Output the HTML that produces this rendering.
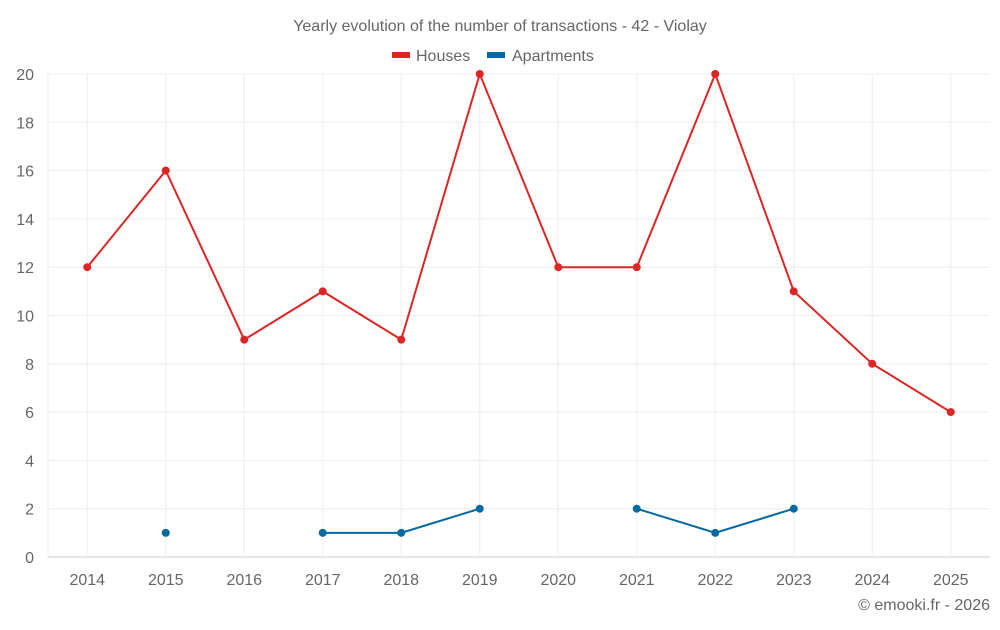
<!DOCTYPE html>
<html><head><meta charset="utf-8"><style>
body{margin:0;background:#fff;}
svg text{font-family:"Liberation Sans",sans-serif;fill:#666;}
</style></head><body>
<svg id="chart" width="1000" height="625">
<text x="500" y="31" text-anchor="middle" font-size="16">Yearly evolution of the number of transactions - 42 - Violay</text>
<g>
<g><rect x="392" y="52" width="18" height="6" fill="#dc2626"/><text x="416" y="61" font-size="16">Houses</text></g>
<g><rect x="487" y="52" width="18" height="6" fill="#0369a1"/><text x="512" y="61" font-size="16">Apartments</text></g>
</g>
<g id="grid"></g><g id="axes"></g><g id="series"></g>
<text x="990" y="610" text-anchor="end" font-size="16">© emooki.fr - 2026</text>
</svg>
<script>
const years=["2014","2015","2016","2017","2018","2019","2020","2021","2022","2023","2024","2025"];
const houses=[12,16,9,11,9,20,12,12,20,11,8,6];
const apartments=[null,1,null,1,1,2,null,2,1,2,null,null];
const yTicks=[0,2,4,6,8,10,12,14,16,18,20];
const NS="http://www.w3.org/2000/svg";
const L=48,R=990,T=74,B=557,ymax=20;
const bw=(R-L)/years.length;
const x=i=>L+bw*(i+0.5);
const y=v=>B-(v/ymax)*(B-T);
function mk(tag,attrs,parent){const e=document.createElementNS(NS,tag);for(const k in attrs)e.setAttribute(k,attrs[k]);parent.appendChild(e);return e;}
const grid=document.getElementById('grid'),axes=document.getElementById('axes'),ser=document.getElementById('series');
yTicks.forEach(v=>{
 const l=mk('line',{x1:L,x2:R,y1:y(v),y2:y(v),stroke:v===0?'#ccc':'#eee'},grid);
 
 
 const t=mk('text',{x:34,y:y(v)+6,'text-anchor':'end','font-size':16},axes);
 t.textContent=v;
 
 
});
mk('line',{x1:L,x2:L,y1:T,y2:B,stroke:'#eee'},grid);
years.forEach((yr,i)=>{
 const l=mk('line',{x1:x(i),x2:x(i),y1:T,y2:B,stroke:'#eee'},grid);
 
 
 const t=mk('text',{x:x(i),y:585,'text-anchor':'middle','font-size':16},axes);
 t.textContent=yr;
 
 
});
function draw(data,color,name){
 let seg=[];
 const flush=()=>{if(seg.length>1){const p=mk('polyline',{points:seg.join(' '),fill:'none',stroke:color,'stroke-width':2},ser);
  
  }seg=[];};
 data.forEach((v,i)=>{if(v===null){flush();return;}seg.push(x(i)+','+y(v));});
 flush();
 data.forEach((v,i)=>{if(v===null)return;
  const c=mk('circle',{cx:x(i),cy:y(v),r:4,fill:color},ser);
  
  });
}
draw(houses,'#dc2626','houses');
draw(apartments,'#0369a1','apartments');
</script>
</body></html>
